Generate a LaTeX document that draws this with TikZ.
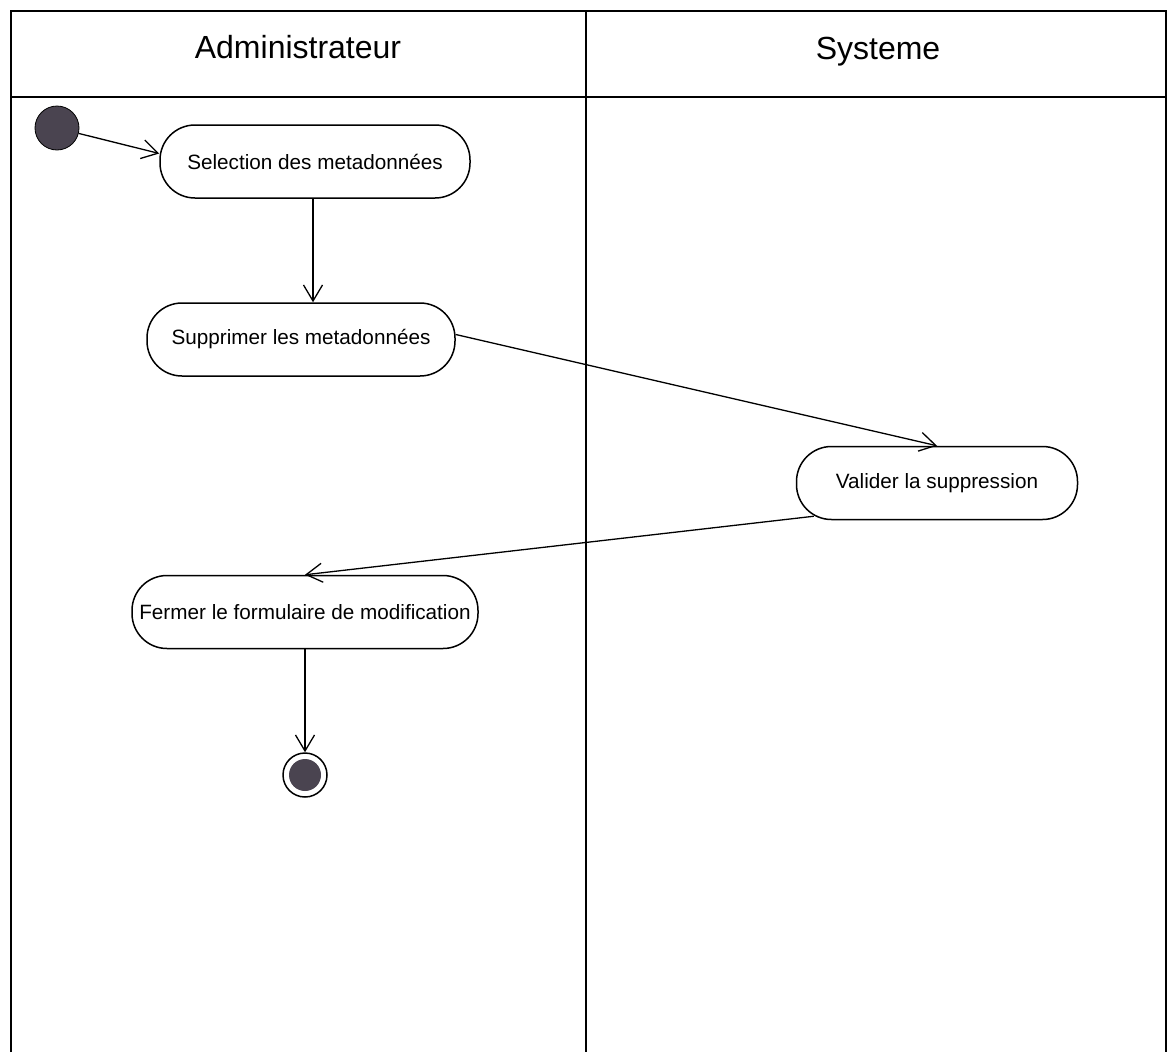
\documentclass[tikz,border=0pt]{standalone}
\usepackage{fontspec}
\setmainfont{Liberation Sans}
\usetikzlibrary{arrows.meta,calc}
\definecolor{dotfill}{RGB}{74,68,80}
\begin{document}
\begin{tikzpicture}[x=1pt,y=-1pt,
  lane/.style={line width=1.6pt},
  action/.style={draw, line width=1.5pt, rounded corners=35pt, minimum height=73pt,
    inner sep=0pt, font=\fontsize{20.7}{24}\selectfont},
  flow/.style={line width=1.3pt, -{Straight Barb[length=16pt,width=19pt]}},
  lanetitle/.style={anchor=base, font=\fontsize{32}{38}\selectfont},
  startdot/.style={circle, fill=dotfill, draw=black, line width=0.8pt,
    minimum size=44pt, inner sep=0pt},
  enddot/.style={circle, draw, line width=1.5pt, minimum size=44pt, inner sep=0pt},
]
\useasboundingbox (0,0) rectangle (1174,1052);
\fill[white] (0,0) rectangle (1174,1052);

% swimlane frame
\draw[lane] (11,1052) -- (11,11) -- (1166,11) -- (1166,1052);
\draw[lane] (586,11) -- (586,1052);
\draw[lane] (11,97) -- (1166,97);
\node[lanetitle] (admin) at (298,58) {Administrateur};
\node[lanetitle] (sys) at (878,59) {Systeme};

% states
\node[startdot] (init) at (57,128) {};
\node[action, minimum width=310pt] (sel) at (315,161.5) {Selection des metadonnées};
\node[action, minimum width=308pt] (sup) at (301,339.5) {Supprimer les metadonnées};
\node[action, minimum width=281pt] (val) at (937,483) {Valider la suppression};
\node[action, minimum width=346pt] (fer) at (305,612) {Fermer le formulaire de modification};
\node[enddot] (fin) at (305,775) {};
\fill[dotfill] (fin.center) circle (16pt);

% transitions
\draw[flow] (init) -- ($(sel.west)+(0,-8)$);
\draw[flow] ($(sel.south)+(-2,0)$) -- ($(sel.south |- sup.north)+(-2,0)$);
\draw[flow] ($(sup.east)+(0,-5)$) -- (val.north);
\draw[flow] ($(val.south west)+(18,-4)$) -- (fer.north);
\draw[flow] (fer.south) -- (fin.north);
\end{tikzpicture}
\end{document}
